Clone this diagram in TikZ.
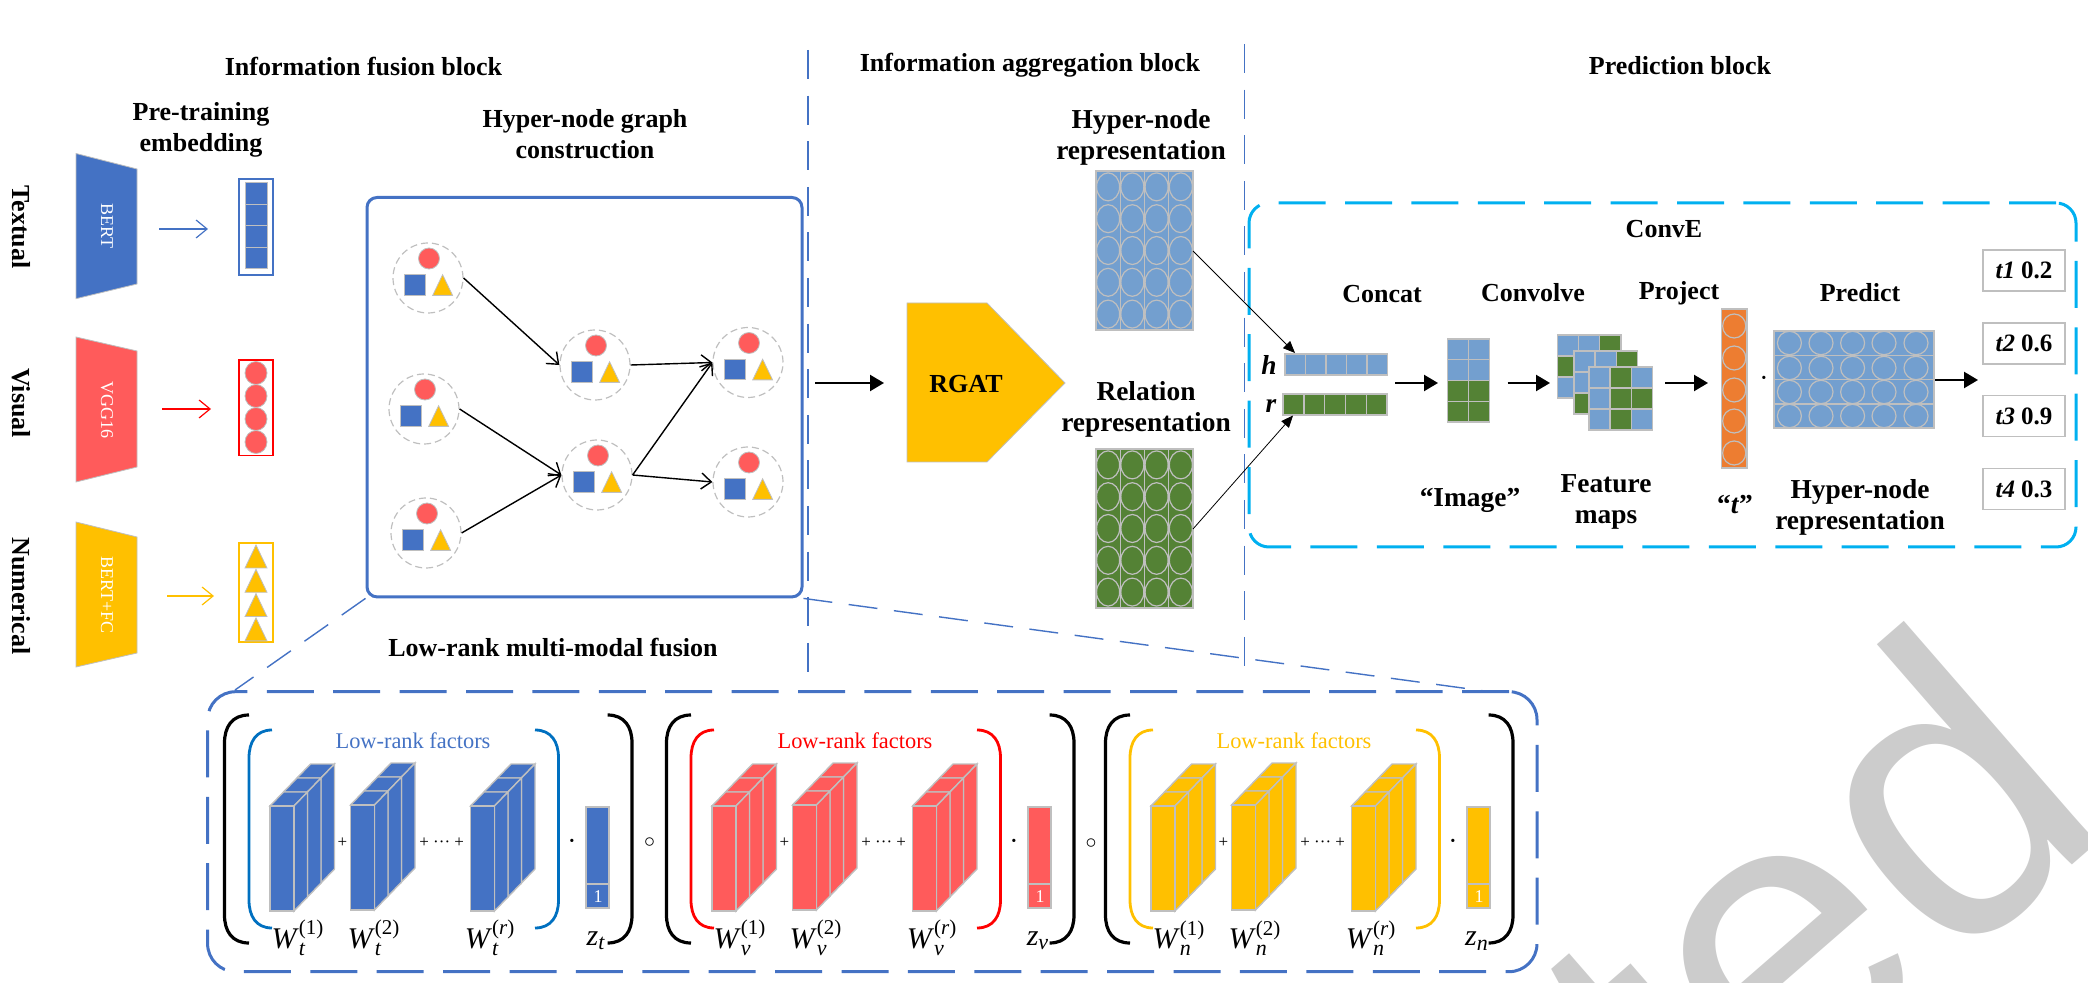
\documentclass[tikz,border=0pt]{standalone}
\usepackage{fontspec}
\setmainfont{Liberation Serif}
\newfontfamily\wmfont{Liberation Sans}
\usetikzlibrary{arrows.meta,shapes.geometric,calc}
\definecolor{mblue}{HTML}{4472C4}
\definecolor{mred}{HTML}{FF5B5B}
\definecolor{pure}{HTML}{FF0000}
\definecolor{myel}{HTML}{FFC000}
\definecolor{lblue}{HTML}{739FCF}
\definecolor{mgreen}{HTML}{548235}
\definecolor{morange}{HTML}{ED7D31}
\definecolor{cyanb}{HTML}{00B0F0}
\definecolor{dblue}{HTML}{0070C0}
\definecolor{ggrey}{HTML}{BFBFBF}
\definecolor{wm}{HTML}{CCCCCC}
\tikzset{
  x=0.5pt,y=-0.5pt,
  head/.style={font=\fontsize{13}{15.5}\selectfont\bfseries,align=center,inner sep=0pt},
  headb/.style={font=\fontsize{13.7}{15.5}\selectfont\bfseries,align=center,inner sep=0pt},
  side/.style={head,rotate=-90},
  intxt/.style={font=\fontsize{9}{11}\selectfont,text=white,rotate=-90,inner sep=0pt},
  thinarrow/.style={line width=0.6pt,-{Straight Barb[length=5.5pt,width=9pt]}},
  graphedge/.style={line width=0.7pt,black,-{Straight Barb[length=5pt,width=8pt]}},
  mainarrow/.style={line width=1.2pt,black,-{Triangle[length=7pt,width=8pt]}},
  feedarrow/.style={line width=0.4pt,black,-{Triangle[length=6pt,width=5pt]}},
  hcircle/.style={circle,draw=ggrey,dash pattern=on 3.5pt off 2pt,line width=0.6pt,minimum size=35pt,inner sep=0pt},
  cell/.style={draw=ggrey,line width=0.7pt},
  vline/.style={draw=mblue,line width=0.7pt,dash pattern=on 14.5pt off 8.3pt},
  bigdash/.style={line width=1.5pt,dash pattern=on 23.5pt off 9.7pt,rounded corners=10pt},
  zoomdash/.style={draw=mblue,line width=0.7pt,dash pattern=on 14.5pt off 8.3pt},
  op/.style={font=\fontsize{8.5}{11}\selectfont,inner sep=0pt},
  result/.style={draw=ggrey,line width=0.7pt,minimum width=41pt,minimum height=20.5pt,inner sep=0pt,font=\fontsize{12.5}{15}\selectfont\bfseries},
}
% cuboid: front-left x, front-top y, colour
\newcommand{\cuboid}[3]{%
  \foreach \i in {2,1,0}{%
    \pgfmathsetmacro{\ox}{#1+\i*13.5}\pgfmathsetmacro{\oy}{#2-\i*14}%
    \filldraw[fill=#3,cell] (\ox,\oy) -- ++(24,0) -- ++(13.5,-14) -- ++(-24,0) -- cycle;
    \filldraw[fill=#3,cell] (\ox+24,\oy) -- ++(13.5,-14) -- ++(0,105) -- ++(-13.5,14) -- cycle;
  }%
  \filldraw[fill=#3,cell] (#1,#2) rectangle ++(24,105);
}
% bracket: outer x, inner x, y0, y1, style
\newcommand{\bigbrack}[5]{%
  \draw[#5] (#2,#3) .. controls ($(#1,#3)!0.3!(#2,#3)$) and (#1,#3+12) .. (#1,#3+28)
    -- (#1,#4-28) .. controls (#1,#4-12) and ($(#1,#4)!0.3!(#2,#4)$) .. (#2,#4);
}
% hyper-node with its three modality marks
\newcommand{\hypernode}[3]{%
  \node[hcircle] (#1) at (#2,#3) {};
  \begin{scope}[shift={(#2,#3)}]
    \filldraw[fill=mred,draw=ggrey,line width=0.4pt] (1,-19.5) circle[radius=10.5];
    \filldraw[fill=mblue,draw=ggrey,line width=0.4pt] (-23.5,-3.3) rectangle (-3,17.4);
    \filldraw[fill=myel,draw=ggrey,line width=0.4pt] (4.7,17.4) -- (14.6,-3.3) -- (24.6,17.4) -- cycle;
  \end{scope}
}
% grid of cells with ellipses
\newcommand{\repgrid}[4]{% x0,y0,colour,name
  \filldraw[fill=#3,draw=ggrey,line width=0.8pt] (#1,#2) rectangle ++(97,159);
  \foreach \c in {1,2,3}{\draw[ggrey,line width=0.7pt] (#1+\c*24.25,#2) -- ++(0,159);}
  \foreach \c in {0,1,2,3}{\foreach \r in {0,1,2,3,4}{%
    \draw[ggrey,line width=0.6pt] (#1+12.1+\c*24.25,#2+15.9+\r*31.8) ellipse[x radius=11.5,y radius=14];}}
  \coordinate (#4) at (#1+97,#2+80);
}
\newcommand{\wlab}[4]{%
  \node[inner sep=0pt,font=\fontsize{15}{15}\selectfont] (#1) at (#2,938) {\textit{W}$^{\raisebox{1.5pt}{\fontsize{10.5}{10.5}\selectfont #3}}_{\mbox{\fontsize{11}{11}\selectfont\itshape #4}}$};
}
\begin{document}
\begin{tikzpicture}
\useasboundingbox (0,0) rectangle (2088,983);
% watermark
\begin{scope}
\clip (0,0) rectangle (2088,983);
\node[rotate=41,anchor=base east,inner sep=0pt,text=wm,font=\fontsize{203}{203}\selectfont\wmfont] (mark) at (2118,825) {ted};
\end{scope}

% block separators
\coordinate (va) at (808,50); \coordinate (vb) at (808,679);
\coordinate (vc) at (1244.5,44); \coordinate (vd) at (1244.5,672);
\draw[vline] (va) -- (vb);
\draw[vline] (vc) -- (vd);

% headings
\node[head] (h1) at (363.5,66.5) {Information fusion block};
\node[head] (h2) at (1030,65.6) {Information aggregation block};
\node[head] (h3) at (1680,65.6) {Prediction block};
\node[head] (h4) at (201,129.5) {Pre-training\\embedding};
\node[head] (h5) at (585,134.5) {Hyper-node graph\\construction};
\node[head] (h6) at (553,648) {Low-rank multi-modal fusion};
\node[side] (s1) at (21,227) {Textual};
\node[side] (s2) at (21,403) {Visual};
\node[side] (s3) at (21,596) {Numerical};

% encoders
\filldraw[fill=mblue,draw=ggrey,line width=0.4pt] (76,153.5) -- (137,169) -- (137,284) -- (76,298.7) -- cycle;
\filldraw[fill=mred,draw=ggrey,line width=0.4pt] (76,337) -- (137,351) -- (137,467) -- (76,482) -- cycle;
\filldraw[fill=myel,draw=ggrey,line width=0.4pt] (76,522) -- (137,537) -- (137,653) -- (76,667) -- cycle;
\node[intxt] (e1) at (107,226) {BERT};
\node[intxt] (e2) at (107,410) {VGG16};
\node[intxt] (e3) at (107,595) {BERT+FC};

% embeddings
\coordinate (ta) at (159,229); \coordinate (tb) at (208,229);
\coordinate (ua) at (162,409); \coordinate (ub) at (211,409);
\coordinate (na) at (167,596); \coordinate (nb) at (214,596);
\draw[thinarrow,mblue] (ta) -- (tb);
\draw[thinarrow,pure] (ua) -- (ub);
\draw[thinarrow,myel] (na) -- (nb);
\draw[mblue,line width=0.7pt] (239,179) rectangle (273,275);
\foreach \i in {0,1,2,3}{\filldraw[fill=mblue,cell,line width=0.5pt] (245,182.6+\i*21.6) rectangle ++(22,21.6);}
\draw[pure,line width=0.8pt] (239,360) rectangle (273,455.4);
\foreach \i in {0,1,2,3}{\filldraw[fill=mred,draw=ggrey,line width=0.4pt] (256,373+\i*23) ellipse[x radius=11,y radius=11.5];}
\draw[myel,line width=0.8pt] (239,543) rectangle (273,642);
\foreach \i in {0,1,2,3}{\filldraw[fill=myel,draw=ggrey,line width=0.4pt] (245,568+\i*24.3) -- (256,545+\i*24.3) -- (267,568+\i*24.3) -- cycle;}

% hyper-node graph
\node[draw=mblue,line width=1.5pt,rounded corners=5pt,minimum width=217.5pt,minimum height=199.7pt,inner sep=0pt] (hyper) at (584.5,397.2) {};
\hypernode{na1}{428}{278}
\hypernode{na2}{424}{409}
\hypernode{na3}{426}{533}
\hypernode{nb1}{595}{365}
\hypernode{nb2}{597}{475}
\hypernode{nc1}{748}{362.5}
\hypernode{nc2}{748}{482}
\draw[graphedge] (na1.east) -- (nb1.west);
\draw[graphedge] (na2.east) -- (nb2.west);
\draw[graphedge] (na3.east) -- (nb2.west);
\draw[graphedge] (nb1.east) -- (nc1.west);
\draw[graphedge] (nb2.east) -- (nc1.west);
\draw[graphedge] (nb2.east) -- (nc2.west);

% RGAT
\filldraw[fill=myel,draw=ggrey,line width=0.4pt] (907,303) -- (987,303) -- (1065,383) -- (987,462) -- (907,462) -- cycle;
\node[head] (rgat) at (966,384) {RGAT};
\coordinate (ra) at (815,383); \coordinate (rb) at (884,383);
\draw[mainarrow] (ra) -- (rb);

% representations
\node[headb] (l1) at (1141,137.5) {Hyper-node\\representation};
\node[headb] (l2) at (1146,409.5) {Relation\\representation};
\repgrid{1096}{171}{lblue}{hyp}
\repgrid{1096}{449}{mgreen}{rel}

% ConvE frame
\node[draw=cyanb,bigdash,minimum width=413.5pt,minimum height=172pt,inner sep=0pt] (conve) at (1662.5,375) {};
\node[head] (c0) at (1664,229) {ConvE};
\node[head] (c1) at (1382,294) {Concat};
\node[head] (c2) at (1533,293) {Convolve};
\node[head] (c3) at (1679,293) {Project};
\node[head] (c4) at (1860,293) {Predict};
\node[headb] (c5) at (1470,500) {“Image”};
\node[headb] (c6) at (1606,501.5) {Feature\\maps};
\node[headb] (c7) at (1735,505) {“\textit{t}”};
\node[headb] (c8) at (1860,507.5) {Hyper-node\\representation};
\node[head,font=\fontsize{13.7}{15.5}\selectfont\bfseries\itshape] (hl) at (1269,365) {h};
\node[head,font=\fontsize{13.7}{15.5}\selectfont\bfseries\itshape] (rl) at (1271,406) {r};

% h and r rows
\foreach \i in {0,1,2,3,4}{\filldraw[fill=lblue,cell] (1285+\i*20.5,354) rectangle ++(20.5,21);}
\foreach \i in {0,1,2,3,4}{\filldraw[fill=mgreen,cell] (1283+\i*20.8,394) rectangle ++(20.8,21);}
\coordinate (hin) at (1295,353); \coordinate (rin) at (1293,415.5);
\draw[feedarrow] (hyp) -- (hin);
\draw[feedarrow] (rel) -- (rin);

% image
\foreach \r/\col in {0/lblue,1/lblue,2/mgreen,3/mgreen}{\foreach \c in {0,1}{\filldraw[fill=\col,cell] (1447.5+\c*21,339+\r*20.75) rectangle ++(21,20.75);}}

% feature maps
\foreach \mx/\my/\rows in {1557.5/335/{lblue,lblue,mgreen,mgreen,lblue,lblue,lblue,lblue,lblue},1574/351/{lblue,lblue,mgreen,lblue,lblue,lblue,mgreen,lblue,lblue},1589/367/{lblue,mgreen,lblue,lblue,mgreen,mgreen,lblue,mgreen,lblue}}{
  \foreach \col [count=\n from 0] in \rows {
    \pgfmathtruncatemacro{\cc}{mod(\n,3)}\pgfmathtruncatemacro{\rr}{div(\n,3)}
    \filldraw[fill=\col,cell] (\mx+\cc*21.1,\my+\rr*21) rectangle ++(21.1,21);
  }
}

% t vector
\filldraw[fill=morange,cell] (1721.5,309) rectangle (1747,468);
\foreach \yy in {326,358,390,421,453}{\draw[ggrey,line width=0.6pt] (1734.2,\yy) ellipse[x radius=11.6,y radius=12];}
\node[op,font=\fontsize{10}{11}\selectfont\bfseries] (dotb) at (1764,380) {·};

% predict grid
\filldraw[fill=lblue,draw=ggrey,line width=0.8pt] (1774,331) rectangle (1934,428);
\foreach \yy in {355.5,379.8,404}{\draw[ggrey,line width=0.7pt] (1774,\yy) -- (1934,\yy);}
\foreach \xx in {1789.4,1821,1852.6,1884,1916}{\foreach \yy in {343,368,392,416}{\draw[ggrey,line width=0.6pt] (\xx,\yy) ellipse[x radius=12,y radius=11.7];}}

% ConvE arrows
\coordinate (a1) at (1395,383); \coordinate (a2) at (1438,383);
\coordinate (a3) at (1507.5,383); \coordinate (a4) at (1550,383);
\coordinate (a5) at (1665,383); \coordinate (a6) at (1708,383);
\coordinate (a7) at (1935,380); \coordinate (a8) at (1978,380);
\draw[mainarrow] (a1) -- (a2);
\draw[mainarrow] (a3) -- (a4);
\draw[mainarrow] (a5) -- (a6);
\draw[mainarrow] (a7) -- (a8);

% results
\node[result] (r1) at (2024,270.5) {\textit{t1} 0.2};
\node[result] (r2) at (2024,343.5) {\textit{t2} 0.6};
\node[result] (r3) at (2024,416) {\textit{t3} 0.9};
\node[result] (r4) at (2024,489) {\textit{t4} 0.3};

% low-rank frame
\node[draw=mblue,bigdash,rounded corners=14pt,minimum width=664.7pt,minimum height=140pt,inner sep=0pt] (lowrank) at (872.3,831.7) {};
\coordinate (za) at (235,690); \coordinate (zb) at (1492,692);
\draw[zoomdash] (hyper.south west) -- (za);
\draw[zoomdash] (hyper.south east) -- (zb);

% three factor groups
\foreach \dx/\cube/\pcol/\lab/\s in {0/mblue/dblue/mblue/t,442/mred/pure/pure/v,881/myel/myel/myel/n}{
  \bigbrack{224.5+\dx}{249+\dx}{715}{943}{black,line width=1.6pt}
  \bigbrack{632+\dx}{607.6+\dx}{715}{943}{black,line width=1.6pt}
  \bigbrack{249+\dx}{272+\dx}{730}{928}{\pcol,line width=1.4pt}
  \bigbrack{558.5+\dx}{535+\dx}{730}{928}{\pcol,line width=1.4pt}
  \node[font=\fontsize{11.2}{13}\selectfont,text=\lab,inner sep=0pt] (lf\s) at (413+\dx,741) {Low-rank factors};
  \cuboid{270+\dx}{806}{\cube}
  \cuboid{350.5+\dx}{805}{\cube}
  \cuboid{470.5+\dx}{806}{\cube}
  \filldraw[fill=\cube,cell] (586+\dx,807) rectangle (609+\dx,884);
  \filldraw[fill=\cube,cell] (586+\dx,884) rectangle (609+\dx,908);
  \node[font=\fontsize{9}{11}\selectfont,text=white,inner sep=0pt] (one\s) at (598+\dx,897) {1};
  \node[op] (pa\s) at (342.4+\dx,843) {+};
  \node[op] (pb\s) at (441.7+\dx,843) {+ ··· +};
  \node[op,font=\fontsize{10}{11}\selectfont\bfseries] (dt\s) at (572+\dx,843) {·};
  \wlab{wa\s}{298+\dx}{(1)}{\s}
  \wlab{wb\s}{374+\dx}{(2)}{\s}
  \wlab{wc\s}{490+\dx}{(\textit{r})}{\s}
  \node[inner sep=0pt,font=\fontsize{15}{15}\selectfont] (zz\s) at (596+\dx,941) {\textit{z}$_{\mbox{\fontsize{11}{11}\selectfont\itshape \s}}$};
}
\node[op,font=\fontsize{11}{11}\selectfont] (ca) at (649.5,843) {$\circ$};
\node[op,font=\fontsize{11}{11}\selectfont] (cb) at (1091,844) {$\circ$};
\end{tikzpicture}
\end{document}
